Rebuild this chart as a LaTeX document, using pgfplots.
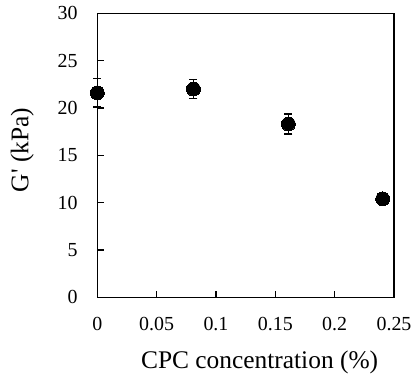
\documentclass[border=0pt]{standalone}
\usepackage{pgfplots}
\pgfplotsset{compat=1.18}
\usepackage{fontspec}
\setmainfont{Liberation Serif}
\begin{document}
\begin{tikzpicture}
\begin{axis}[
  scale only axis,
  width=296.7bp, height=284bp,
  xmin=0, xmax=0.25, ymin=0, ymax=30,
  xtick={0,0.05,0.1,0.15,0.2,0.25},
  xticklabels={0,0.05,0.1,0.15,0.2,0.25},
  ytick={0,5,10,15,20,25,30},
  tick pos=left,
  tick align=inside,
  major tick length=6.5bp,
  axis line style={line width=1.4bp},
  every tick/.style={line width=1.4bp, black},
  /pgf/number format/assume math mode=true,
  tick label style={font=\fontsize{20}{20}\selectfont, inner sep=0pt},
  xticklabel style={anchor=north, yshift=-19.5bp},
  yticklabel style={anchor=east, xshift=-19.5bp},
  xlabel={CPC concentration (\%)},
  ylabel={G\textquotesingle\ (kPa)},
  every axis x label/.style={at={(axis description cs:0.547,-0.249)}, anchor=base, font=\fontsize{25.5}{25.5}\selectfont},
  every axis y label/.style={at={(axis description cs:-0.2319,0.519)}, rotate=90, anchor=base, font=\fontsize{25.5}{25.5}\selectfont},
  clip=false,
]
\addplot[
  only marks, mark=*, mark size=7bp, black,
  mark options={fill=black, line width=0pt},
  error bars/.cd, y dir=both, y explicit,
  error mark=-, error bar style={line width=1.4bp, black},
  error mark options={mark size=4bp, line width=1.4bp, black, rotate=90},
] coordinates {
  (0, 21.6) +- (0, 1.5)
  (0.081, 22.0) +- (0, 1.0)
  (0.161, 18.3) +- (0, 1.05)
  (0.2405, 10.4) +- (0, 0.55)
};
\end{axis}
\pgfresetboundingbox
\path (current axis.south west) ++(-97.3bp,-78.7bp) rectangle ++(411bp,376bp);
\end{tikzpicture}
\end{document}
